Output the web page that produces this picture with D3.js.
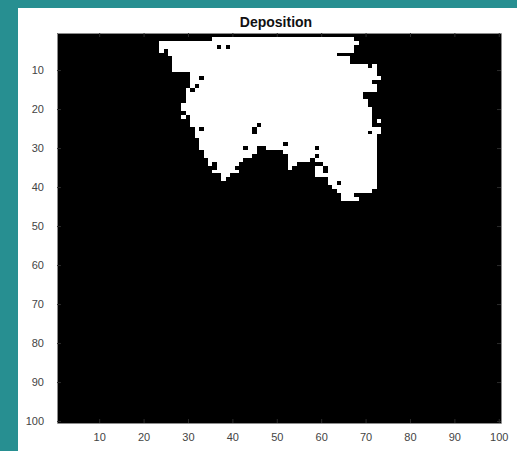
<!DOCTYPE html>
<html>
<head>
<meta charset="utf-8">
<script src="https://cdn.jsdelivr.net/npm/d3@7.9.0/dist/d3.min.js"></script>
<style>
  html, body { margin: 0; padding: 0; background: #278f91; }
  svg { display: block; }
</style>
</head>
<body>
<div id="chart"></div>
<script>
// grid size and ticks
const gridSize = 100;
const xTicks = [10, 20, 30, 40, 50, 60, 70, 80, 90, 100];
const yTicks = [10, 20, 30, 40, 50, 60, 70, 80, 90, 100];
const title = 'Deposition';

// deposited cells (value 1), per row: [row, [firstCol, lastCol], ...]
const depositRuns = [
  [2, [36, 67]],
  [3, [24, 68]],
  [4, [24, 36], [38, 38], [40, 67]],
  [5, [24, 24], [26, 67]],
  [6, [26, 63]],
  [7, [27, 66]],
  [8, [27, 66]],
  [9, [27, 70], [72, 72]],
  [10, [27, 72]],
  [11, [31, 72]],
  [12, [31, 32], [34, 73]],
  [13, [31, 71]],
  [14, [31, 31], [33, 72]],
  [15, [30, 30], [32, 72]],
  [16, [30, 69]],
  [17, [30, 69]],
  [18, [30, 70]],
  [19, [29, 70]],
  [20, [29, 71]],
  [21, [30, 71]],
  [22, [29, 29], [31, 71]],
  [23, [31, 71], [73, 73]],
  [24, [31, 45], [47, 71]],
  [25, [32, 32], [34, 44], [46, 73]],
  [26, [32, 44], [46, 70], [72, 73]],
  [27, [32, 72]],
  [28, [33, 72]],
  [29, [33, 51], [53, 72]],
  [30, [33, 42], [44, 45], [48, 58], [60, 72]],
  [31, [34, 45], [52, 72]],
  [32, [34, 44], [53, 58], [60, 72]],
  [33, [35, 42], [53, 57], [59, 72]],
  [34, [35, 35], [37, 41], [53, 54], [61, 72]],
  [35, [37, 40], [53, 53], [59, 60], [62, 72]],
  [36, [36, 41], [59, 60], [62, 72]],
  [37, [38, 39], [59, 72]],
  [38, [38, 38], [62, 72]],
  [39, [62, 63], [65, 72]],
  [40, [63, 72]],
  [41, [64, 71]],
  [42, [65, 67]],
  [43, [65, 68]]
];

const width = 517;
const height = 451;
const box = { left: 57, right: 501, top: 33, bottom: 423 };

const svg = d3.select('#chart')
  .append('svg')
  .attr('width', width)
  .attr('height', height);

// white figure panel
svg.append('rect')
  .attr('x', 18)
  .attr('y', 8)
  .attr('width', width - 18)
  .attr('height', height - 8)
  .attr('fill', '#ffffff');

const x = d3.scaleLinear()
  .domain([0.5, gridSize + 0.5])
  .range([box.left, box.right]);

const y = d3.scaleLinear()
  .domain([0.5, gridSize + 0.5])
  .range([box.top, box.bottom]);

// empty cells (value 0)
svg.append('rect')
  .attr('x', x(0.5))
  .attr('y', y(0.5))
  .attr('width', x(gridSize + 0.5) - x(0.5))
  .attr('height', y(gridSize + 0.5) - y(0.5))
  .attr('fill', '#000000');

// deposited cells
const runs = depositRuns.flatMap(([row, ...spans]) =>
  spans.map(([a, b]) => ({ row, a, b })));

svg.append('g')
  .attr('class', 'cells')
  .selectAll('rect')
  .data(runs)
  .join('rect')
  .attr('x', d => x(d.a - 0.5))
  .attr('y', d => y(d.row - 0.5))
  .attr('width', d => x(d.b + 0.5) - x(d.a - 0.5))
  .attr('height', d => y(d.row + 0.5) - y(d.row - 0.5))
  .attr('fill', '#ffffff')
  .attr('shape-rendering', 'crispEdges');

// axes
const font = '"Liberation Sans", Arial, Helvetica, sans-serif';

function styleAxis(g) {
  g.select('.domain').attr('stroke', '#8c8c8c');
  g.selectAll('.tick line').attr('stroke', '#2b2b2b');
  g.selectAll('.tick text')
    .attr('fill', '#444444')
    .style('font-family', font)
    .style('font-size', '11px');
}

svg.append('g')
  .attr('transform', `translate(0,${box.bottom})`)
  .call(d3.axisBottom(x).tickValues(xTicks).tickSizeInner(-4).tickSizeOuter(0).tickPadding(10))
  .call(styleAxis);

svg.append('g')
  .attr('transform', `translate(${box.left},0)`)
  .call(d3.axisLeft(y).tickValues(yTicks).tickSizeInner(-4).tickSizeOuter(0).tickPadding(13))
  .call(styleAxis);

svg.append('g')
  .attr('transform', `translate(0,${box.top})`)
  .call(d3.axisTop(x).tickValues(xTicks).tickSizeInner(-4).tickSizeOuter(0).tickFormat(''))
  .call(styleAxis);

svg.append('g')
  .attr('transform', `translate(${box.right},0)`)
  .call(d3.axisRight(y).tickValues(yTicks).tickSizeInner(-4).tickSizeOuter(0).tickFormat(''))
  .call(styleAxis);

// title
svg.append('text')
  .attr('x', (box.left + box.right) / 2 - 3)
  .attr('y', 27)
  .attr('text-anchor', 'middle')
  .style('font-family', font)
  .style('font-size', '14px')
  .style('font-weight', 'bold')
  .attr('fill', '#111111')
  .text(title);
</script>
</body>
</html>
